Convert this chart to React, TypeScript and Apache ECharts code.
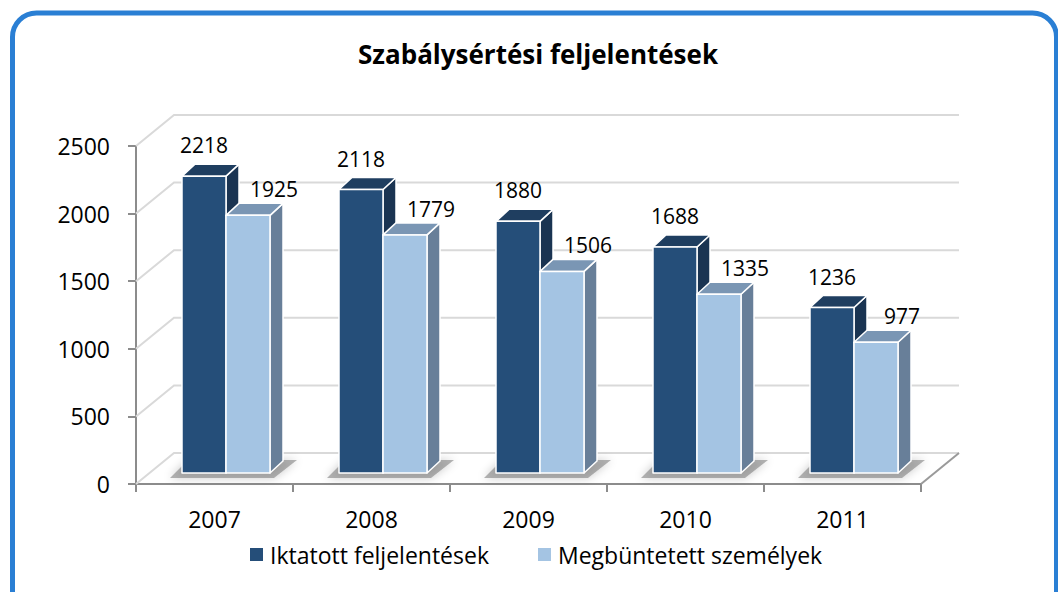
import React, { useEffect, useRef } from "react";
import * as echarts from "echarts";

const categories = ["2007", "2008", "2009", "2010", "2011"];
const iktatott = [2218, 2118, 1880, 1688, 1236];
const megbuntetett = [1925, 1779, 1506, 1335, 977];
const yTicks = [0, 500, 1000, 1500, 2000, 2500];
const seriesNames = ["Iktatott feljelentések", "Megbüntetett személyek"];
const titleText = "Szabálysértési feljelentések";

const FONT = "'Open Sans', 'Noto Sans', sans-serif";
const WALL_DX = 38;
const WALL_DY = -31;
const BASE_DY = -11;
const TOP_DX = 13;
const TOP_DY = -12;

const palettes = [
  { front: "#254e79", top: "#1f3e60", side: "#1a3452" },
  { front: "#a4c4e3", top: "#7a96b4", side: "#687f99" },
];

function barRender(s: number) {
  return (params: any, api: any) => {
    const i = api.value(0);
    const v = api.value(1);
    const band = api.size([1, 0])[0];
    const c0 = api.coord([i, 0]);
    const c1 = api.coord([i, v]);
    const bandStart = c0[0] - band / 2;
    const x = bandStart + band * (s === 0 ? 46 / 157 : 90 / 157);
    const w = (band * 44) / 157;
    const yb = c0[1] + BASE_DY;
    const yt = yb - (c0[1] - c1[1]) * 0.99;
    const p = palettes[s];
    const stroke = { stroke: "#ffffff", lineWidth: 1.5, lineJoin: "round" };
    return {
      type: "group",
      children: [
        {
          type: "polygon",
          shape: {
            points: [
              [x + w, yt],
              [x + w + TOP_DX, yt + TOP_DY],
              [x + w + TOP_DX, yb + TOP_DY],
              [x + w, yb],
            ],
          },
          style: { fill: p.side, ...stroke },
        },
        {
          type: "polygon",
          shape: {
            points: [
              [x, yt],
              [x + TOP_DX, yt + TOP_DY],
              [x + w + TOP_DX, yt + TOP_DY],
              [x + w, yt],
            ],
          },
          style: { fill: p.top, ...stroke },
        },
        {
          type: "rect",
          shape: { x, y: yt, width: w, height: yb - yt },
          style: { fill: p.front, ...stroke },
        },
        {
          type: "text",
          style: {
            text: String(v),
            x: x + w / 2 + (s === 0 ? 0 : 26),
            y: yt + (s === 0 ? -31 : -26),
            align: "center",
            verticalAlign: "middle",
            fill: "#000000",
            fontSize: 21,
            fontFamily: FONT,
          },
        },
      ],
    };
  };
}

function shadowRender(params: any, api: any) {
  const i = api.value(0);
  const band = api.size([1, 0])[0];
  const c0 = api.coord([i, 0]);
  const bandStart = c0[0] - band / 2;
  const x0 = bandStart + (band * 46) / 157;
  const x1 = bandStart + (band * 134) / 157;
  const yb = c0[1] + BASE_DY;
  return {
    type: "polygon",
    shape: {
      points: [
        [x0 - 12, yb + 5],
        [x1 + 4, yb + 5],
        [x1 + TOP_DX + 14, yb + TOP_DY - 1],
        [x0 + 6, yb + TOP_DY - 1],
      ],
    },
    style: {
      fill: "rgba(90,90,90,0.45)",
      shadowBlur: 10,
      shadowColor: "rgba(0,0,0,0.45)",
    },
  };
}

function gridRender(params: any, api: any) {
  const v = api.value(1);
  const cs = params.coordSys;
  const y = api.coord([0, v])[1];
  const x0 = cs.x;
  const x1 = cs.x + cs.width;
  const children: any[] = [
    {
      type: "polyline",
      shape: {
        points: [
          [x0, y],
          [x0 + WALL_DX, y + WALL_DY],
          [x1 + WALL_DX, y + WALL_DY],
        ],
      },
      style: { stroke: "#d9d9d9", lineWidth: 2, fill: null },
    },
  ];
  if (v === 0) {
    children.push({
      type: "line",
      shape: { x1: x1, y1: y, x2: x1 + WALL_DX, y2: y + WALL_DY },
      style: { stroke: "#9a9a9a", lineWidth: 2 },
    });
  }
  return { type: "group", children };
}

export default function App() {
  const ref = useRef<HTMLDivElement>(null);
  useEffect(() => {
    if (!ref.current) return;
    const chart = echarts.init(ref.current, null, { renderer: "svg" });
    chart.setOption({
      animation: false,
      backgroundColor: "#ffffff",
      title: {
        text: titleText,
        left: 533,
        textAlign: "center",
        top: 36,
        textStyle: {
          fontFamily: FONT,
          fontWeight: "bold",
          fontSize: 26,
          color: "#000000",
        },
      },
      legend: {
        data: seriesNames,
        left: 245,
        top: 538,
        icon: "rect",
        itemWidth: 13,
        itemHeight: 13,
        itemGap: 49,
        textStyle: { fontFamily: FONT, fontSize: 23, color: "#000000", padding: [0, 0, 0, 2] },
      },
      grid: { left: 136, right: 137, top: 146, bottom: 108 },
      xAxis: {
        type: "category",
        data: categories,
        boundaryGap: true,
        axisLine: { show: true, lineStyle: { color: "#8c8c8c", width: 2 } },
        axisTick: { show: true, length: 8, lineStyle: { color: "#8c8c8c", width: 2 } },
        axisLabel: { fontFamily: FONT, fontSize: 23, color: "#000000", margin: 23 },
        splitLine: { show: false },
      },
      yAxis: {
        type: "value",
        min: 0,
        max: 2500,
        interval: 500,
        axisLine: { show: true, lineStyle: { color: "#8c8c8c", width: 2 } },
        axisTick: { show: true, length: 8, lineStyle: { color: "#8c8c8c", width: 2 } },
        axisLabel: {
          fontFamily: FONT,
          fontSize: 23,
          color: "#000000",
          margin: 26,
          formatter: (val: number) => String(val),
        },
        splitLine: { show: false },
      },
      graphic: [
        {
          type: "rect",
          shape: { x: 12.5, y: 13, width: 1044, height: 700, r: 24 },
          style: { fill: "none", stroke: "#2a7fd4", lineWidth: 5 },
          z: 100,
          silent: true,
        },
      ],
      series: [
        {
          type: "custom",
          name: "grid",
          z: 1,
          silent: true,
          renderItem: gridRender,
          data: yTicks.map((v) => [0, v]),
        },
        {
          type: "custom",
          name: "shadow",
          z: 2,
          silent: true,
          renderItem: shadowRender,
          data: categories.map((_, i) => [i, 0]),
        },
        {
          type: "custom",
          name: seriesNames[0],
          z: 3,
          itemStyle: { color: palettes[0].front },
          renderItem: barRender(0),
          data: iktatott.map((v, i) => [i, v]),
        },
        {
          type: "custom",
          name: seriesNames[1],
          z: 4,
          itemStyle: { color: palettes[1].front },
          renderItem: barRender(1),
          data: megbuntetett.map((v, i) => [i, v]),
        },
      ],
    });
    return () => chart.dispose();
  }, []);
  return (
    <div
      ref={ref}
      style={{ position: "fixed", left: 0, top: 0, width: 1058, height: 592 }}
    />
  );
}
